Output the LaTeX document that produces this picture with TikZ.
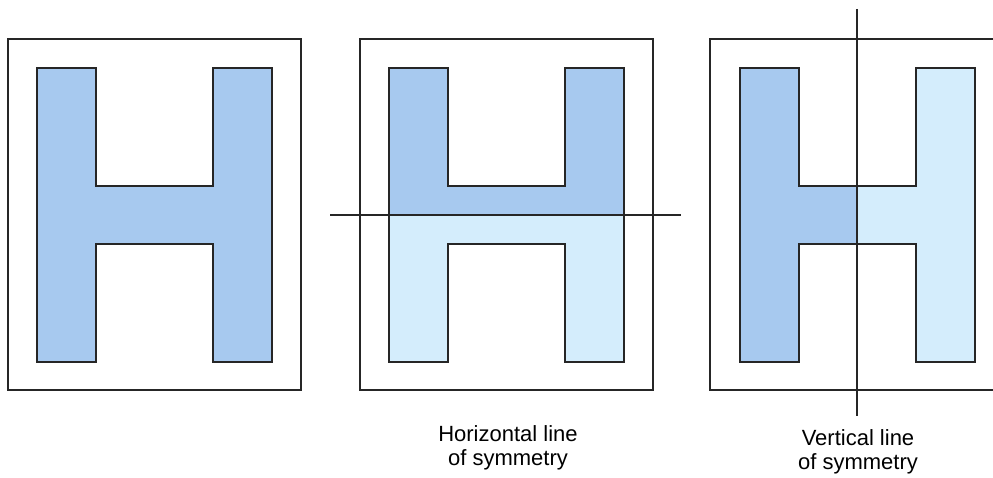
\documentclass[tikz,border=0pt]{standalone}
\usepackage{fontspec}
\setmainfont{Liberation Sans}
\definecolor{hdark}{RGB}{167,201,239}
\definecolor{hlight}{RGB}{212,237,252}
\newcommand{\Hshape}[1]{(#1,68) -- ++(59,0) -- ++(0,118) -- ++(117,0) -- ++(0,-118) -- ++(59,0) -- ++(0,294) -- ++(-59,0) -- ++(0,-118) -- ++(-117,0) -- ++(0,118) -- ++(-59,0) -- cycle}
\begin{document}
\begin{tikzpicture}[x=0.75pt,y=-0.75pt,
  frame/.style={draw=black!85,line width=1pt},
  outline/.style={draw=black!85,line width=1pt},
  symline/.style={draw=black!85,line width=1pt},
  lbl/.style={font=\fontsize{16.5}{18.5}\selectfont,align=center,inner sep=0pt,anchor=north}]
\useasboundingbox (0,0) rectangle (993,478);
% box 1
\draw[frame] (8,39) rectangle (301,390);
\fill[hdark] \Hshape{37};
\draw[outline] \Hshape{37};
% box 2
\draw[frame] (360,39) rectangle (653,390);
\begin{scope}
  \clip (360,0) rectangle (653,215);
  \fill[hdark] \Hshape{389};
\end{scope}
\begin{scope}
  \clip (360,215) rectangle (653,478);
  \fill[hlight] \Hshape{389};
\end{scope}
\draw[outline] \Hshape{389};
\coordinate (hl1) at (330,215);
\coordinate (hl2) at (681,215);
\draw[symline] (hl1) -- (hl2);
% box 3
\draw[frame] (996,39) -- (710,39) -- (710,390) -- (996,390);
\begin{scope}
  \clip (700,0) rectangle (857,478);
  \fill[hdark] \Hshape{740};
\end{scope}
\begin{scope}
  \clip (857,0) rectangle (993,478);
  \fill[hlight] \Hshape{740};
\end{scope}
\draw[outline] \Hshape{740};
\coordinate (vl1) at (857,9);
\coordinate (vl2) at (857,416);
\draw[symline] (vl1) -- (vl2);
% labels
\node[lbl] (hlab) at (508,425) {Horizontal line\\of symmetry};
\node[lbl] (vlab) at (858,429) {Vertical line\\of symmetry};
\end{tikzpicture}
\end{document}
